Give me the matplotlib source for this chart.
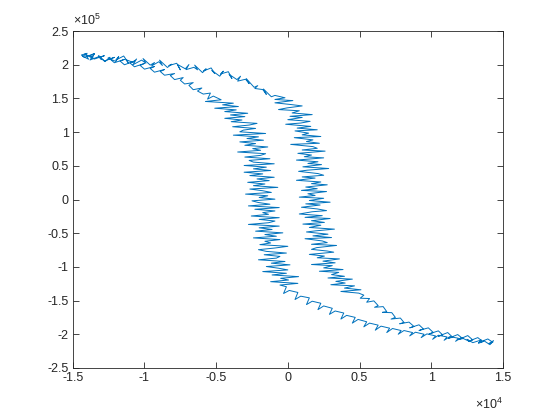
import matplotlib
matplotlib.use('Agg')
import matplotlib.pyplot as plt

plt.rcParams['font.family'] = ['Liberation Sans', 'DejaVu Sans']
plt.rcParams['mathtext.default'] = 'regular'

# descending branch: top-left -> bottom-right
x_down = [-14300, -13900, -14150, -13650, -13500, -13800, -13200, -13000, -13200, -12750,
          -12400, -12550, -12000, -11800, -12000, -11450, -11100, -11300, -10800, -10550,
          -10800, -10200, -9900, -10100, -9600, -9300, -9500, -9000, -8750, -8950,
          -8400, -8100, -8300, -7750, -7500, -7700, -7150, -6900, -7100, -6550,
          -6300, -6500, -5950, -5700, -5900, -5350, -5100, -5300, -4750, -4500,
          -4700, -4150, -3900, -4100, -3550, -3300, -3500, -2950, -2700, -2900,
          -2350, -2100, -2300, -1750, -1500, -1700, -1150, -900,
          -200, -900, 350, -900, 200, 1000, -50, -650, 800, 300,
          1700, 150, 1000, 0, 1550, 900, -150, 1600, 650, 2050,
          500, 1450, 1000, 2300, 450, 1750, 1300, 2200, 200, 1750,
          2050, 1000, 2600, 700, 1650, 1150, 2500, 600, 2100, 1400,
          2350, 1050, 2850, 1350, 750, 2100, 2500, 1000, 1900, 600,
          2300, 1650, 2750, 1250, 2050, 950, 2700, 1400, 1900, 800,
          2500, 1500, 2950, 1250, 2250, 950, 2050, 2700, 1700, 800,
          2400, 1200, 2950, 1650, 2550, 1050, 2300, 1500, 3250, 1950,
          1300, 2800, 1750, 3050, 1200, 2400, 2750, 1650, 3400, 2000,
          1650, 2750, 3200, 1500, 2550, 2050, 3600, 2450, 3300, 1650,
          3100, 2500, 3850, 2200, 3550, 3050, 3950, 2800, 4500, 3350,
          4000, 3000, 4650, 3950, 5100, 3700, 4950,
          5300, 5050, 5700, 5500, 6000, 6300, 6050, 6650, 6900, 6600,
          7250, 7500, 7200, 7850, 8100, 7800, 8450, 8800, 8500, 9150,
          9450, 9150, 9800, 10150, 9850, 10500, 10800, 10500, 11150, 11500,
          11200, 11850, 12200, 11900, 12550, 12900, 12600, 13250, 13600, 13300,
          13950, 14300, 14000, 14350]
y_down = [212500, 208300, 216200, 209800, 216500, 207100, 212000, 207700, 213500, 204700,
          211100, 209900, 205000, 212100, 207000, 213000, 202200, 207600, 203600, 208600,
          200100, 206900, 202300, 209200, 199500, 203300, 198300, 204500, 198900, 206900,
          196000, 200800, 198800, 202200, 192500, 200500, 194000, 200300, 192800, 196200,
          192500, 199500, 188300, 194000, 190600, 195300, 187000, 191600, 183000, 190500,
          186300, 189700, 179500, 185800, 178000, 183000, 175700, 178500, 172000, 179500,
          166500, 169000, 164800, 163200, 156000, 164000, 152500, 154500,
          151000, 148500, 146800, 143500, 141000, 138900, 136000, 133500, 131700, 128500,
          126000, 123500, 121800, 118500, 116000, 113500, 111700, 108500, 106000, 103500,
          101800, 98500, 96000, 93500, 91800, 88500, 86000, 83500, 81800, 78500,
          76000, 73500, 71800, 68500, 66000, 63500, 61800, 58500, 56000, 53500,
          51800, 48500, 46000, 43500, 41800, 38500, 36000, 33500, 31800, 28500,
          26000, 23500, 21800, 18500, 16000, 13500, 11800, 8500, 6000, 3500,
          1800, -1500, -4000, -6500, -8200, -11500, -14000, -16500, -18200, -21500,
          -24000, -26500, -28200, -31500, -34000, -36500, -38200, -41500, -44000, -46500,
          -48200, -51500, -54000, -56500, -58200, -61500, -64000, -66500, -68200, -71500,
          -74000, -76500, -78200, -81500, -84000, -86500, -88200, -91500, -94000, -96500,
          -98200, -101500, -104000, -106500, -108200, -111500, -114000, -116500, -118200, -121500,
          -124000, -126500, -128200, -131500, -134000, -136500, -139000,
          -142000, -146500, -147000, -152500, -150500, -157500, -160000, -159000, -166500, -167500,
          -168000, -175000, -177500, -176000, -182500, -184500, -182000, -188500, -190500, -186000,
          -192000, -194500, -190500, -197500, -199500, -195000, -201000, -203000, -197500, -204500,
          -206000, -200500, -206500, -208000, -202000, -208500, -210500, -205000, -211000, -212500,
          -207000, -212000, -214000, -209500]

# returning branch: bottom-right -> top-left
x_up = [14100, 13700, 13300, 13500, 12900, 12500, 12700, 12100, 11700, 11900,
        11300, 10900, 11100, 10500, 10100, 10300, 9700, 9300, 9500, 8900,
        8500, 8700, 8100, 7700, 7900, 7300, 6900, 7100, 6500, 6100,
        6300, 5700, 5300, 5500, 4900, 4500, 4700, 4100, 3700, 3900,
        3300, 2900, 3100, 2500, 2100, 2300, 1700, 1300, 1500, 900,
        500, 700, 100, -300, -100,
        -550, 700, -1200, 50, -500, 750, -1100, -100, -1750, 0,
        -650, -1500, 150, -1150, -200, -2050, -800, -550, -1650, -100,
        -1500, -2050, -900, 0, -1950, -1200, -1600, -550, -2400, -800,
        -1600, -350, -2250, -1100, -2000, -600, -2750, -1350, -900, -2000,
        -600, -2550, -1350, -1750, -900, -2300, -600, -2750, -1250, -2050,
        -2500, -900, -2000, -1400, -2950, -1150, -1750, -2650, -700, -2400,
        -1600, -2800, -1300, -2150, -950, -2650, -1750, -3050, -1200, -2400,
        -1500, -3050, -950, -2400, -2700, -1250, -3000, -1900, -1550, -3500,
        -1900, -2450, -1400, -3000, -2250, -3350, -1700, -2850, -2050, -3800,
        -1550, -3350, -3100, -2250, -3850, -2700, -2150, -3950, -3200, -4400,
        -3000, -4000, -2800, -4400, -3600, -5100, -3450, -4550, -3800, -5750,
        -4650,
        -5200, -5600, -5400, -5900, -6300, -6000, -6600, -6900, -6600, -7200,
        -7500, -7300, -7900, -8200, -7900, -8600, -8900, -8600, -9300, -9600,
        -9300, -10000, -10300, -10000, -10700, -11000, -10700, -11400, -11700, -11400,
        -12100, -12400, -12100, -12800, -13100, -12800, -13500, -13800, -13500, -14200,
        -14400, -14000, -14300]
y_up = [-215500, -210000, -213500, -208500, -212500, -207500, -211000, -205000, -210500, -206000,
        -203500, -209000, -204000, -201500, -207500, -202500, -199500, -205000, -200000, -197000,
        -202500, -197500, -194500, -200000, -194500, -191500, -197500, -191000, -188000, -194000,
        -186500, -183500, -189000, -181500, -178000, -183500, -175000, -172000, -177500, -168500,
        -165500, -170500, -161500, -158000, -163500, -154000, -151000, -156000, -146000, -143500,
        -148500, -138000, -135000, -139500, -129500,
        -127000, -124500, -122000, -119500, -117000, -114500, -112000, -109500, -107000, -104500,
        -102000, -99500, -97000, -94500, -92000, -89500, -87000, -84500, -82000, -79500,
        -77000, -74500, -72000, -69500, -67000, -64500, -62000, -59500, -57000, -54500,
        -52000, -49500, -47000, -44500, -42000, -39500, -37000, -34500, -32000, -29500,
        -27000, -24500, -22000, -19500, -17000, -14500, -12000, -9500, -7000, -4500,
        -2000, 500, 3000, 5500, 8000, 10500, 13000, 15500, 18000, 20500,
        23000, 25500, 28000, 30500, 33000, 35500, 38000, 40500, 43000, 45500,
        48000, 50500, 53000, 55500, 58000, 60500, 63000, 65500, 68000, 70500,
        73000, 75500, 78000, 80500, 83000, 85500, 88000, 90500, 93000, 95500,
        98000, 100500, 103000, 105500, 108000, 110500, 113000, 115500, 118000, 120500,
        123000, 125500, 128000, 130500, 133000, 135500, 138000, 140500, 143000, 145500,
        148000,
        153500, 149000, 158000, 156500, 161000, 165500, 163000, 169500, 173500, 171500,
        177000, 181000, 178000, 184000, 187000, 184500, 190000, 193000, 189000, 194500,
        197500, 193500, 199000, 202000, 197000, 202500, 205500, 200000, 205500, 208000,
        203000, 208500, 211000, 205500, 211000, 213500, 208500, 213500, 216500, 211000,
        214500, 217000, 212500]

x_ticks = [-1.5, -1, -0.5, 0, 0.5, 1, 1.5]
y_ticks = [-2.5, -2, -1.5, -1, -0.5, 0, 0.5, 1, 1.5, 2, 2.5]
x_scale = 1e4
y_scale = 1e5

fig = plt.figure(figsize=(5.6, 4.2), dpi=100)
ax = fig.add_axes([0.13, 0.124, 0.768, 0.802])

ax.plot(x_down + x_up, y_down + y_up, color='#0072BD', linewidth=0.7)

ax.set_xlim(-1.5 * x_scale, 1.5 * x_scale)
ax.set_ylim(-2.5 * y_scale, 2.5 * y_scale)
ax.set_xticks([t * x_scale for t in x_ticks])
ax.set_xticklabels([f'{t:g}' for t in x_ticks])
ax.set_yticks([t * y_scale for t in y_ticks])
ax.set_yticklabels([f'{t:g}' for t in y_ticks])

ax.tick_params(direction='in', length=4, width=0.6, top=True, right=True,
               labelsize=9, colors='#262626', pad=3)
for s in ax.spines.values():
    s.set_linewidth(0.6)
    s.set_color('#262626')

ax.text(0.0, 1.008, r'$\times10^{5}$', transform=ax.transAxes, fontsize=9,
        color='#262626', ha='left', va='bottom')
ax.text(1.0, -0.085, r'$\times10^{4}$', transform=ax.transAxes, fontsize=9,
        color='#262626', ha='right', va='top')

fig.savefig('out.png', dpi=100)
